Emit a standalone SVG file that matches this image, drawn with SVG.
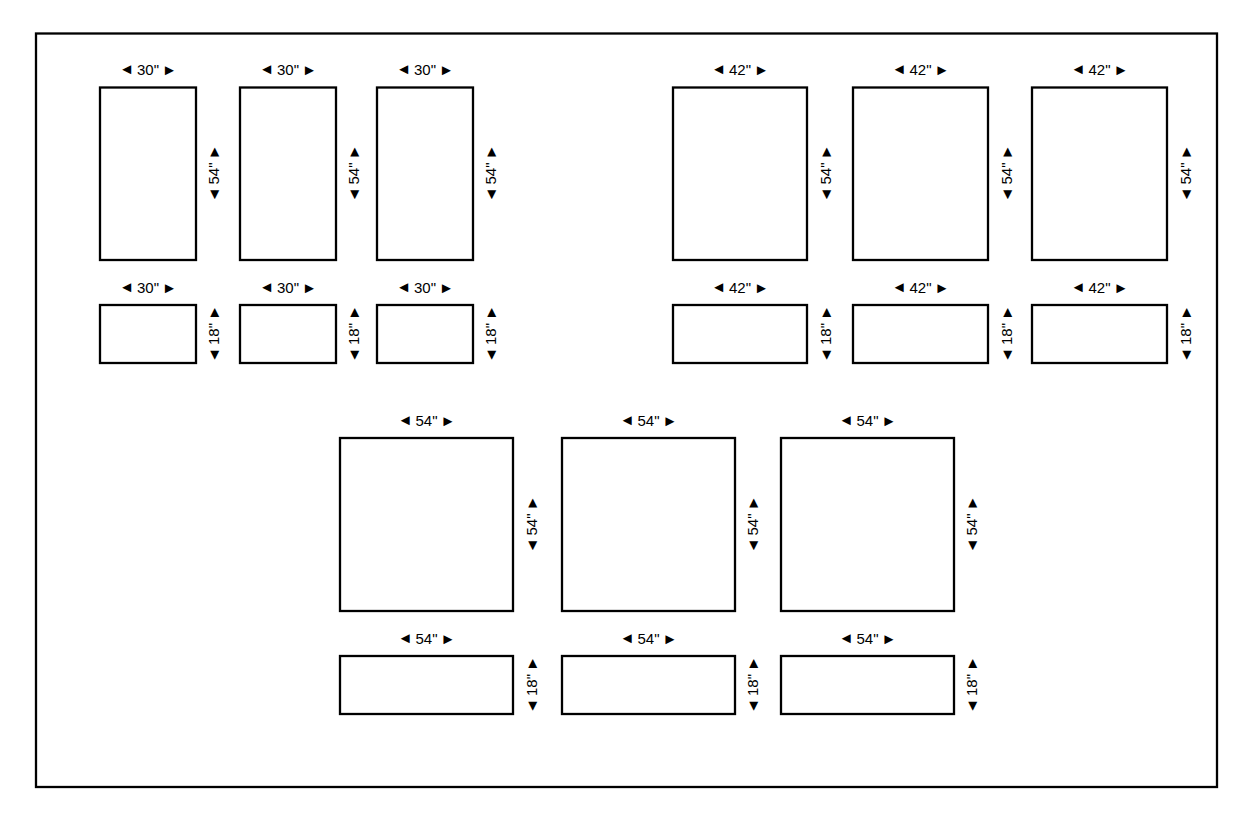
<svg xmlns="http://www.w3.org/2000/svg" width="1257" height="827" viewBox="0 0 1257 827">
<style>
.b{fill:#fff;stroke:#000;stroke-width:2.3}
.t{font-family:"Liberation Sans",Arial,sans-serif;font-size:15px;fill:#000;text-anchor:middle;dominant-baseline:central}
</style>
<rect x="0" y="0" width="1257" height="827" fill="#fff"/>
<rect x="36" y="33.5" width="1181" height="753.5" fill="none" stroke="#000" stroke-width="2.3"/>
<g id="p1"><rect class="b" x="100" y="87.5" width="96" height="172.5"/><text class="t" x="148" y="68.5">◄<tspan dx="3">30"</tspan><tspan dx="3">►</tspan></text><text class="t" transform="translate(213,173.5) rotate(-90)">◄<tspan dx="3">54"</tspan><tspan dx="3">►</tspan></text></g>
<g id="p2"><rect class="b" x="240" y="87.5" width="96" height="172.5"/><text class="t" x="288" y="68.5">◄<tspan dx="3">30"</tspan><tspan dx="3">►</tspan></text><text class="t" transform="translate(353,173.5) rotate(-90)">◄<tspan dx="3">54"</tspan><tspan dx="3">►</tspan></text></g>
<g id="p3"><rect class="b" x="377" y="87.5" width="96" height="172.5"/><text class="t" x="425" y="68.5">◄<tspan dx="3">30"</tspan><tspan dx="3">►</tspan></text><text class="t" transform="translate(490,173.5) rotate(-90)">◄<tspan dx="3">54"</tspan><tspan dx="3">►</tspan></text></g>
<g id="p4"><rect class="b" x="100" y="305" width="96" height="58"/><text class="t" x="148" y="286.5">◄<tspan dx="3">30"</tspan><tspan dx="3">►</tspan></text><text class="t" transform="translate(213,334) rotate(-90)">◄<tspan dx="3">18"</tspan><tspan dx="3">►</tspan></text></g>
<g id="p5"><rect class="b" x="240" y="305" width="96" height="58"/><text class="t" x="288" y="286.5">◄<tspan dx="3">30"</tspan><tspan dx="3">►</tspan></text><text class="t" transform="translate(353,334) rotate(-90)">◄<tspan dx="3">18"</tspan><tspan dx="3">►</tspan></text></g>
<g id="p6"><rect class="b" x="377" y="305" width="96" height="58"/><text class="t" x="425" y="286.5">◄<tspan dx="3">30"</tspan><tspan dx="3">►</tspan></text><text class="t" transform="translate(490,334) rotate(-90)">◄<tspan dx="3">18"</tspan><tspan dx="3">►</tspan></text></g>
<g id="p7"><rect class="b" x="673" y="87.5" width="134" height="172.5"/><text class="t" x="740" y="68.5">◄<tspan dx="3">42"</tspan><tspan dx="3">►</tspan></text><text class="t" transform="translate(825,173.5) rotate(-90)">◄<tspan dx="3">54"</tspan><tspan dx="3">►</tspan></text></g>
<g id="p8"><rect class="b" x="853" y="87.5" width="135" height="172.5"/><text class="t" x="920.5" y="68.5">◄<tspan dx="3">42"</tspan><tspan dx="3">►</tspan></text><text class="t" transform="translate(1006,173.5) rotate(-90)">◄<tspan dx="3">54"</tspan><tspan dx="3">►</tspan></text></g>
<g id="p9"><rect class="b" x="1032" y="87.5" width="135" height="172.5"/><text class="t" x="1099.5" y="68.5">◄<tspan dx="3">42"</tspan><tspan dx="3">►</tspan></text><text class="t" transform="translate(1185,173.5) rotate(-90)">◄<tspan dx="3">54"</tspan><tspan dx="3">►</tspan></text></g>
<g id="p10"><rect class="b" x="673" y="305" width="134" height="58"/><text class="t" x="740" y="286.5">◄<tspan dx="3">42"</tspan><tspan dx="3">►</tspan></text><text class="t" transform="translate(825,334) rotate(-90)">◄<tspan dx="3">18"</tspan><tspan dx="3">►</tspan></text></g>
<g id="p11"><rect class="b" x="853" y="305" width="135" height="58"/><text class="t" x="920.5" y="286.5">◄<tspan dx="3">42"</tspan><tspan dx="3">►</tspan></text><text class="t" transform="translate(1006,334) rotate(-90)">◄<tspan dx="3">18"</tspan><tspan dx="3">►</tspan></text></g>
<g id="p12"><rect class="b" x="1032" y="305" width="135" height="58"/><text class="t" x="1099.5" y="286.5">◄<tspan dx="3">42"</tspan><tspan dx="3">►</tspan></text><text class="t" transform="translate(1185,334) rotate(-90)">◄<tspan dx="3">18"</tspan><tspan dx="3">►</tspan></text></g>
<g id="p13"><rect class="b" x="340" y="438" width="173" height="173"/><text class="t" x="426.5" y="419.5">◄<tspan dx="3">54"</tspan><tspan dx="3">►</tspan></text><text class="t" transform="translate(531,524.5) rotate(-90)">◄<tspan dx="3">54"</tspan><tspan dx="3">►</tspan></text></g>
<g id="p14"><rect class="b" x="562" y="438" width="173" height="173"/><text class="t" x="648.5" y="419.5">◄<tspan dx="3">54"</tspan><tspan dx="3">►</tspan></text><text class="t" transform="translate(752,524.5) rotate(-90)">◄<tspan dx="3">54"</tspan><tspan dx="3">►</tspan></text></g>
<g id="p15"><rect class="b" x="781" y="438" width="173" height="173"/><text class="t" x="867.5" y="419.5">◄<tspan dx="3">54"</tspan><tspan dx="3">►</tspan></text><text class="t" transform="translate(971,524.5) rotate(-90)">◄<tspan dx="3">54"</tspan><tspan dx="3">►</tspan></text></g>
<g id="p16"><rect class="b" x="340" y="656" width="173" height="58"/><text class="t" x="426.5" y="637.5">◄<tspan dx="3">54"</tspan><tspan dx="3">►</tspan></text><text class="t" transform="translate(531,685) rotate(-90)">◄<tspan dx="3">18"</tspan><tspan dx="3">►</tspan></text></g>
<g id="p17"><rect class="b" x="562" y="656" width="173" height="58"/><text class="t" x="648.5" y="637.5">◄<tspan dx="3">54"</tspan><tspan dx="3">►</tspan></text><text class="t" transform="translate(752,685) rotate(-90)">◄<tspan dx="3">18"</tspan><tspan dx="3">►</tspan></text></g>
<g id="p18"><rect class="b" x="781" y="656" width="173" height="58"/><text class="t" x="867.5" y="637.5">◄<tspan dx="3">54"</tspan><tspan dx="3">►</tspan></text><text class="t" transform="translate(971,685) rotate(-90)">◄<tspan dx="3">18"</tspan><tspan dx="3">►</tspan></text></g>
<g id="connectors"></g>
</svg>
